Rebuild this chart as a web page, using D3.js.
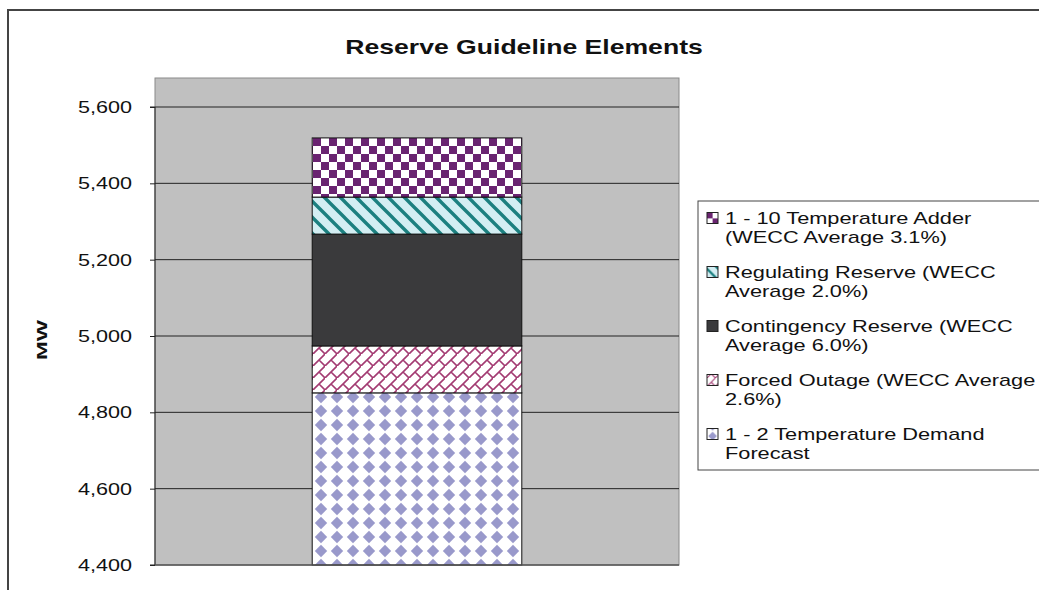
<html>
<head>
<script src="https://d3js.org/d3.v7.min.js"></script>
<style>
  body { margin: 0; background: #fff; }
  text { font-family: "Liberation Sans", Arial, sans-serif; fill: #111; }
</style>
</head>
<body>
<script>
    // data
    const seriesKeys = ["demand", "forced", "contingency", "regulating", "adder"];
    const seriesValues = [4851, 123, 293, 97, 155];
    const category = ["Reserve"];
    const yTicks = [4400, 4600, 4800, 5000, 5200, 5400, 5600];
    // legend reads top to bottom (reverse of stack order), wrapped as in the original
    const legendKeys = ["adder", "regulating", "contingency", "forced", "demand"];
    const legendLines = [
        ["1 - 10 Temperature Adder", "(WECC Average 3.1%)"],
        ["Regulating Reserve (WECC", "Average 2.0%)"],
        ["Contingency Reserve (WECC", "Average 6.0%)"],
        ["Forced Outage (WECC Average", "2.6%)"],
        ["1 - 2 Temperature Demand", "Forecast"]
    ];
    const titleText = "Reserve Guideline Elements";
    const yLabel = "MW";

    let width = 1039, height = 590;
    let svg = d3.select("body").append("svg")
        .attr("width", width)
        .attr("height", height);

    // plot area box
    let plot = {left: 155, right: 679, top: 78, bottom: 565};
    let y = d3.scaleLinear().domain([4400, 5600]).range([565, 107]).clamp(true);
    let x = d3.scaleBand().domain(category).range([plot.left, plot.right]).paddingOuter(0.75).paddingInner(0);

    // the original image is stretched sideways, so text gets a horizontal scale
    function stretchedText(sel, px, py, sx, txt) {
        return sel.append("text")
            .attr("transform", `translate(${px},${py}) scale(${sx},1)`)
            .text(txt);
    }

    // patterns
    let defs = svg.append("defs");
    function makePatterns(suffix, tf) {
        let p;
        // checker (temperature adder)
        p = defs.append("pattern").attr("id", "adder" + suffix).attr("patternUnits", "userSpaceOnUse")
            .attr("width", 16).attr("height", 16).attr("patternTransform", tf);
        p.append("rect").attr("width", 16).attr("height", 16).attr("fill", "#fff");
        p.append("rect").attr("width", 8).attr("height", 8).attr("fill", "#6a2471");
        p.append("rect").attr("x", 8).attr("y", 8).attr("width", 8).attr("height", 8).attr("fill", "#6a2471");
        // diagonal stripes (regulating)
        p = defs.append("pattern").attr("id", "regulating" + suffix).attr("patternUnits", "userSpaceOnUse")
            .attr("width", 16).attr("height", 16).attr("patternTransform", tf);
        p.append("rect").attr("width", 16).attr("height", 16).attr("fill", "#d3eef3");
        p.append("path").attr("d", "M-2,-2 L18,18 M-6,10 L6,22 M10,-6 L22,6")
            .attr("stroke", "#1c8080").attr("stroke-width", 3.4);
        // solid (contingency)
        p = defs.append("pattern").attr("id", "contingency" + suffix).attr("patternUnits", "userSpaceOnUse")
            .attr("width", 8).attr("height", 8);
        p.append("rect").attr("width", 8).attr("height", 8).attr("fill", "#3a3a3c");
        // diagonal brick (forced outage)
        p = defs.append("pattern").attr("id", "forced" + suffix).attr("patternUnits", "userSpaceOnUse")
            .attr("width", 12).attr("height", 12).attr("patternTransform", tf);
        p.append("rect").attr("width", 12).attr("height", 12).attr("fill", "#fff");
        p.append("path").attr("d", "M-1,13 L13,-1 M6,6 L12,12")
            .attr("stroke", "#a33b72").attr("stroke-width", 1.6).attr("fill", "none");
        // diamonds (demand)
        p = defs.append("pattern").attr("id", "demand" + suffix).attr("patternUnits", "userSpaceOnUse")
            .attr("width", 16).attr("height", 14).attr("patternTransform", tf);
        p.append("rect").attr("width", 16).attr("height", 14).attr("fill", "#fff");
        p.append("path").attr("d", "M8,0.8 L14.2,7 L8,13.2 L1.8,7 Z").attr("fill", "#9999cb");
    }
    makePatterns("", "translate(313,138)");
    makePatterns("-s", "translate(707,0) scale(0.7)");

    // chart border
    svg.append("rect")
        .attr("x", 8).attr("y", 10).attr("width", 1200).attr("height", 800)
        .attr("fill", "none").attr("stroke", "#444").attr("stroke-width", 2);

    // plot background
    svg.append("rect")
        .attr("x", plot.left).attr("y", plot.top)
        .attr("width", plot.right - plot.left).attr("height", plot.bottom - plot.top)
        .attr("fill", "#c0c0c0").attr("stroke", "#8a8a8a");

    // gridlines
    svg.selectAll(".grid")
        .data(yTicks.slice(1))
        .join("line")
        .attr("class", "grid")
        .attr("x1", plot.left).attr("x2", plot.right)
        .attr("y1", d => y(d)).attr("y2", d => y(d))
        .attr("stroke", "#222").attr("stroke-width", 1);

    // stacked bar
    let row = {};
    seriesKeys.forEach((k, i) => row[k] = seriesValues[i]);
    let stacked = d3.stack().keys(seriesKeys)([row]);
    svg.selectAll(".seg")
        .data(stacked)
        .join("rect")
        .attr("class", "seg")
        .attr("x", x(category[0]))
        .attr("width", x.bandwidth())
        .attr("y", d => y(d[0][1]))
        .attr("height", d => y(d[0][0]) - y(d[0][1]))
        .attr("fill", d => `url(#${d.key})`)
        .attr("stroke", "#111").attr("stroke-width", 1);

    // y axis
    let axis = svg.append("g")
        .attr("transform", `translate(${plot.left},0)`)
        .call(d3.axisLeft(y).tickValues(yTicks).tickSize(5).tickFormat(""));
    axis.selectAll("path, line").attr("stroke", "#222");
    axis.select(".domain").attr("d", `M-5,${y(5600)}H0V${y(4400)}H-5`);
    yTicks.forEach(t => {
        stretchedText(svg, 132, y(t) + 6, 1.27, d3.format(",")(t))
            .attr("text-anchor", "end").attr("font-size", 17);
    });

    // x axis line
    svg.append("line")
        .attr("x1", plot.left).attr("x2", plot.right)
        .attr("y1", plot.bottom).attr("y2", plot.bottom)
        .attr("stroke", "#555").attr("stroke-width", 1.5);

    // y label
    svg.append("text")
        .attr("transform", "translate(47,340) rotate(-90)")
        .attr("text-anchor", "middle")
        .attr("font-size", 14).attr("font-weight", "bold")
        .attr("textLength", 40).attr("lengthAdjust", "spacingAndGlyphs")
        .text(yLabel);

    // title
    stretchedText(svg, 524, 54, 1.33, titleText)
        .attr("text-anchor", "middle").attr("font-size", 20).attr("font-weight", "bold");

    // legend
    svg.append("rect")
        .attr("x", 698).attr("y", 201).attr("width", 400).attr("height", 269)
        .attr("fill", "#fff").attr("stroke", "#444").attr("stroke-width", 1);
    legendKeys.forEach((k, i) => {
        let cy = 218 + i * 54;
        svg.append("rect")
            .attr("x", 707).attr("y", cy - 5.5).attr("width", 11).attr("height", 11)
            .attr("fill", `url(#${k}-s)`)
            .attr("stroke", "#222").attr("stroke-width", 1);
        legendLines[i].forEach((ln, j) => {
            stretchedText(svg, 725, cy + 6 + j * 19, 1.28, ln).attr("font-size", 17);
        });
    });
</script>
</body>
</html>
